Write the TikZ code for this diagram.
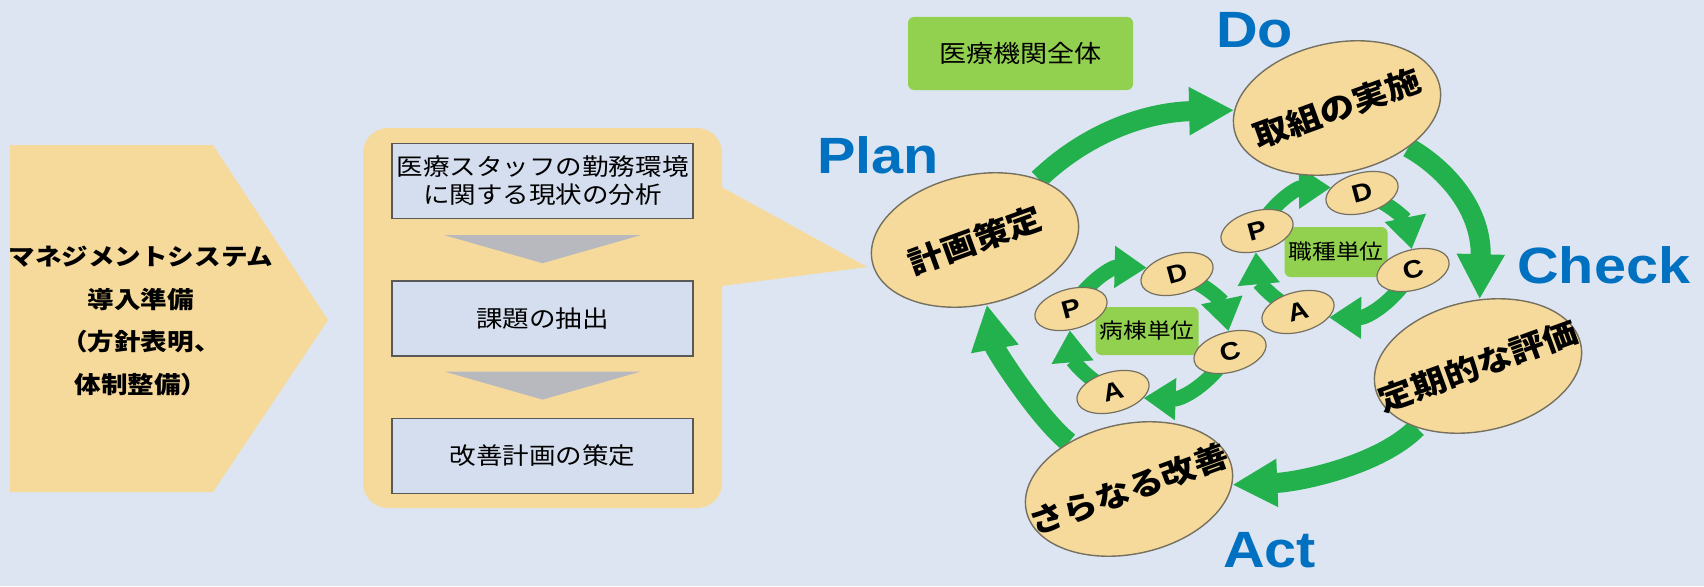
\documentclass[tikz,border=0pt]{standalone}
\usepackage{fontspec}
\usepackage{tikz}
\usetikzlibrary{arrows.meta,positioning,shapes.geometric,calc}
\setmainfont[FakeStretch=1.13]{Liberation Sans}
\newfontfamily\jpfont[FakeStretch=1.13]{Noto Sans CJK JP}
\definecolor{bg}{HTML}{DCE5F1}
\definecolor{wheat}{HTML}{F6DA9C}
\definecolor{rim}{HTML}{76705F}
\definecolor{pane}{HTML}{D5DEEE}
\definecolor{boxline}{HTML}{595959}
\definecolor{wedge}{HTML}{B8B9BE}
\definecolor{leaf}{HTML}{22B14C}
\definecolor{lime}{HTML}{92D050}
\definecolor{phaseblue}{HTML}{0070C0}
\pgfdeclarelayer{paper}
\pgfdeclarelayer{links}
\pgfsetlayers{paper,links,main}

\begin{document}
\begin{tikzpicture}[
  x=1pt, y=1pt,
  stage/.style={draw=boxline, line width=1.4pt, fill=pane, minimum width=301pt, minimum height=75pt, inner sep=0pt, align=center, font=\jpfont\fontsize{23.5}{28}\selectfont},
  unitbox/.style={fill=lime, rounded corners=6pt, inner sep=0pt, align=center},
  bigell/.style={ellipse, draw=rim, line width=1.4pt, fill=wheat, minimum width=210pt, minimum height=130pt, inner sep=0pt, rotate=12},
  bigtext/.style={rotate=20, inner sep=0pt, font=\jpfont\bfseries\fontsize{31}{31}\selectfont},
  smallell/.style={ellipse, draw=rim, line width=1.2pt, fill=wheat, minimum width=74pt, minimum height=40pt, inner sep=0pt, rotate=15, font=\bfseries\fontsize{25}{25}\selectfont},
  phase/.style={text=phaseblue, anchor=base west, inner sep=0pt, font=\bfseries\fontsize{51}{51}\selectfont},
  bigarc/.style={draw=leaf, line width=20pt, -{Triangle[width=45pt,length=45pt]}},
  smallarc/.style={draw=leaf, line width=15pt, -{Triangle[width=40pt,length=32pt]}}
]
\useasboundingbox (0,0) rectangle (1704,-586);
\begin{pgfonlayer}{paper}
\fill[bg] (0,0) rectangle (1704,-586);
\end{pgfonlayer}

% preparation block
\fill[wheat] (10,-145) -- (213,-145) -- (328,-320) -- (213,-492) -- (10,-492) -- cycle;
\node[align=center, font=\jpfont\bfseries\fontsize{23.5}{42.7}\selectfont] (prep) at (141,-321) {マネジメントシステム\\導入準備\\（方針表明、\\体制整備）};

% callout with the three steps
\node[fill=wheat, rounded corners=25pt, minimum width=359pt, minimum height=380pt] (callout) at (542.5,-318) {};
\fill[wheat] ($(callout.east)+(-8,135)$) -- ($(callout.east)+(145,51)$) -- ($(callout.east)+(-8,31)$) -- cycle;
\node[stage] (s1) at (542.5,-181) {医療スタッフの勤務環境\\に関する現状の分析};
\node[stage, below=61pt of s1] (s2) {課題の抽出};
\node[stage, below=61pt of s2] (s3) {改善計画の策定};
\fill[wedge] ($(s1.south)+(-98,-16)$) -- ($(s1.south)+(98,-16)$) -- ($(s1.south)+(0,-44)$) -- cycle;
\fill[wedge] ($(s2.south)+(-98,-15)$) -- ($(s2.south)+(98,-15)$) -- ($(s2.south)+(0,-43)$) -- cycle;

% whole-organisation cycle
\node[unitbox, minimum width=225pt, minimum height=73pt, font=\jpfont\fontsize{24}{24}\selectfont] (whole) at (1020.5,-53.5) {医療機関全体};
\node[bigell] (plan) at (975,-240) {};
\node[bigell] (do) at (1337,-108) {};
\node[bigell] (check) at (1478,-366) {};
\node[bigell] (act) at (1129,-489) {};
\node[bigtext] (plantxt) at (plan) {計画策定};
\node[bigtext] (dotxt) at (do) {取組の実施};
\node[bigtext] (checktxt) at (check) {定期的な評価};
\node[bigtext] (acttxt) at (act) {さらなる改善};
\node[phase] (planlbl) at (817,-173) {Plan};
\node[phase] (dolbl) at (1216,-48) {Do};
\node[phase] (checklbl) at (1517,-283) {Check};
\node[phase] (actlbl) at (1223,-567) {Act};

% ward cycle
\node[unitbox, minimum width=103pt, minimum height=48pt, font=\jpfont\fontsize{21}{21}\selectfont] (ward) at (1147,-331) {病棟単位};
\node[smallell] (p1) at (1071,-309) {P};
\node[smallell] (d1) at (1177,-274) {D};
\node[smallell] (c1) at (1230,-352) {C};
\node[smallell] (a1) at (1113,-392) {A};

% job cycle
\node[unitbox, minimum width=103pt, minimum height=50pt, font=\jpfont\fontsize{21}{21}\selectfont] (job) at (1336,-252) {職種単位};
\node[smallell] (p2) at (1257,-231) {P};
\node[smallell] (d2) at (1362,-193) {D};
\node[smallell] (c2) at (1413,-270) {C};
\node[smallell] (a2) at (1298,-312) {A};

\begin{pgfonlayer}{links}
\draw[bigarc] (plan) .. controls (1090,-130) and (1150,-112) .. (do);
\draw[bigarc] (do) .. controls (1440,-165) and (1482,-205) .. (check);
\draw[bigarc] (check) .. controls (1380,-465) and (1300,-482) .. (act);
\draw[bigarc] (act) .. controls (1040,-420) and (995,-350) .. (plan);

\draw[smallarc] (p1.center) to[bend left=30] (d1);
\draw[smallarc] (d1.center) to[bend left=30] (c1);
\draw[smallarc] (c1.center) to[bend left=30] (a1);
\draw[smallarc] (a1.center) to[bend left=30] (p1);
\draw[smallarc] (p2.center) to[bend left=30] (d2);
\draw[smallarc] (d2.center) to[bend left=30] (c2);
\draw[smallarc] (c2.center) to[bend left=30] (a2);
\draw[smallarc] (a2.center) to[bend left=30] (p2);
\end{pgfonlayer}
\end{tikzpicture}
\end{document}
